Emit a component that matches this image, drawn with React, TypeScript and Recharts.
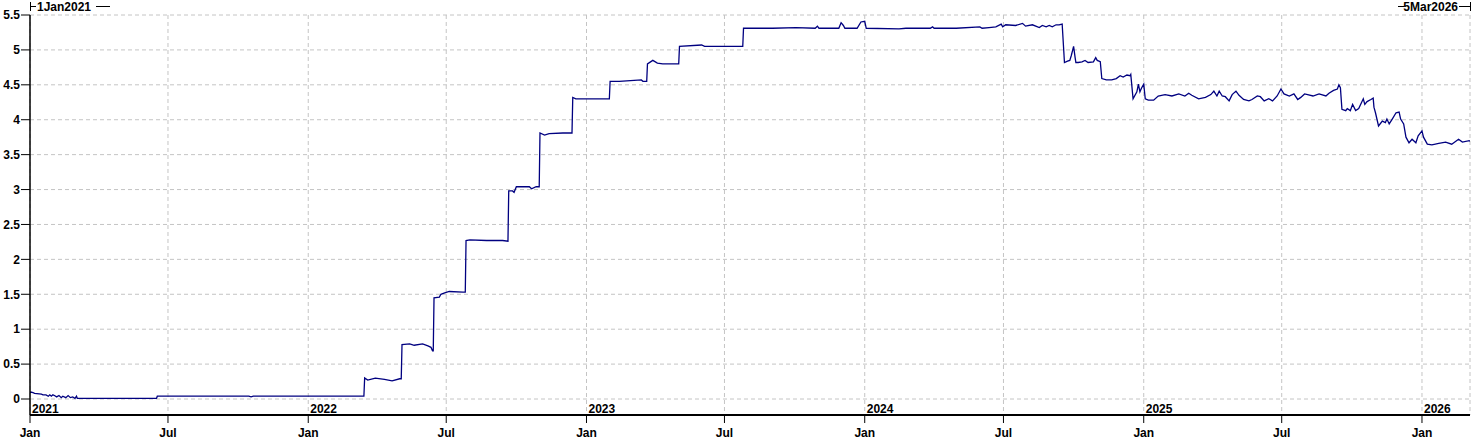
import React from "react";
import { LineChart, Line, XAxis, YAxis, CartesianGrid } from "recharts";

// ---- data ----
const dates2021 = [
  "2021-01-01", "2021-01-02", "2021-01-05", "2021-01-07", "2021-01-16", "2021-01-18",
  "2021-01-22", "2021-01-25", "2021-01-27", "2021-01-29", "2021-01-31", "2021-02-02",
  "2021-02-05", "2021-02-08", "2021-02-11", "2021-02-13", "2021-02-17", "2021-02-20",
  "2021-02-23", "2021-02-26", "2021-03-01", "2021-03-03", "2021-03-04", "2021-06-16",
  "2021-06-17", "2021-10-15", "2021-10-18", "2021-10-21",
];
const values2021 = [
  0.09, 0.10, 0.09, 0.08, 0.07, 0.06,
  0.06, 0.04, 0.06, 0.04, 0.06, 0.05,
  0.03, 0.05, 0.02, 0.04, 0.02, 0.05,
  0.02, 0.03, 0.01, 0.04, 0.01, 0.01,
  0.04, 0.04, 0.03, 0.04,
];

const dates2022 = [
  "2022-03-15", "2022-03-16", "2022-03-20", "2022-03-30", "2022-04-11", "2022-04-21",
  "2022-05-01", "2022-05-03", "2022-05-04", "2022-05-14", "2022-05-20", "2022-05-31",
  "2022-06-07", "2022-06-11", "2022-06-13", "2022-06-14", "2022-06-15", "2022-06-22",
  "2022-06-24", "2022-06-29", "2022-07-05", "2022-07-23", "2022-07-26", "2022-07-27",
  "2022-08-01", "2022-08-23", "2022-09-13", "2022-09-20", "2022-09-21", "2022-09-26",
  "2022-09-28", "2022-10-01", "2022-10-18", "2022-10-21", "2022-10-27", "2022-10-31",
  "2022-11-01", "2022-11-07", "2022-11-13", "2022-12-01", "2022-12-13", "2022-12-14",
  "2022-12-18",
];
const values2022 = [
  0.04, 0.30, 0.27, 0.30, 0.28, 0.26,
  0.29, 0.29, 0.78, 0.79, 0.77, 0.79,
  0.76, 0.74, 0.69, 0.69, 1.45, 1.46,
  1.50, 1.52, 1.54, 1.53, 1.53, 2.27,
  2.28, 2.27, 2.27, 2.26, 2.98, 2.98,
  2.96, 3.04, 3.04, 3.01, 3.04, 3.04,
  3.81, 3.78, 3.80, 3.81, 3.81, 4.32,
  4.30,
];

const dates2023 = [
  "2023-01-03", "2023-01-18", "2023-01-31", "2023-02-01", "2023-02-13", "2023-03-14",
  "2023-03-16", "2023-03-21", "2023-03-22", "2023-03-29", "2023-04-04", "2023-04-11",
  "2023-04-26", "2023-05-02", "2023-05-03", "2023-06-01", "2023-06-05", "2023-07-25",
  "2023-07-26", "2023-09-02", "2023-10-03", "2023-10-28", "2023-10-31", "2023-11-02",
  "2023-11-28", "2023-12-01", "2023-12-04", "2023-12-06", "2023-12-22", "2023-12-27",
];
const values2023 = [
  4.30, 4.30, 4.30, 4.55, 4.55, 4.57,
  4.55, 4.55, 4.80, 4.85, 4.81, 4.80,
  4.80, 4.80, 5.05, 5.07, 5.05, 5.05,
  5.31, 5.31, 5.32, 5.31, 5.34, 5.31,
  5.31, 5.39, 5.35, 5.31, 5.31, 5.40,
];

const dates2024 = [
  "2024-01-01", "2024-01-03", "2024-02-15", "2024-02-24", "2024-03-27", "2024-03-30",
  "2024-04-01", "2024-04-30", "2024-05-31", "2024-06-03", "2024-06-12", "2024-06-21",
  "2024-06-28", "2024-06-30", "2024-07-04", "2024-07-17", "2024-07-26", "2024-07-30",
  "2024-08-08", "2024-08-17", "2024-08-21", "2024-08-26", "2024-08-30", "2024-09-03",
  "2024-09-08", "2024-09-12", "2024-09-16", "2024-09-19", "2024-09-23", "2024-09-26",
  "2024-09-28", "2024-10-01", "2024-10-03", "2024-10-04", "2024-10-07", "2024-10-12",
  "2024-10-16", "2024-10-20", "2024-10-27", "2024-10-30", "2024-11-01", "2024-11-05",
  "2024-11-07", "2024-11-13", "2024-11-20", "2024-11-26", "2024-12-01", "2024-12-05",
  "2024-12-10", "2024-12-14", "2024-12-15", "2024-12-18", "2024-12-23", "2024-12-25",
  "2024-12-27", "2024-12-29",
];
const values2024 = [
  5.41, 5.31, 5.30, 5.31, 5.31, 5.33,
  5.31, 5.31, 5.33, 5.31, 5.32, 5.33,
  5.37, 5.33, 5.36, 5.35, 5.38, 5.34,
  5.36, 5.32, 5.35, 5.33, 5.35, 5.33,
  5.36, 5.36, 5.37, 4.82, 4.84, 4.85,
  4.92, 5.05, 4.89, 4.82, 4.82, 4.83,
  4.85, 4.82, 4.83, 4.89, 4.85, 4.83,
  4.59, 4.57, 4.57, 4.59, 4.63, 4.61,
  4.64, 4.63, 4.65, 4.30, 4.40, 4.51,
  4.40, 4.45,
];

const dates2025 = [
  "2025-01-01", "2025-01-03", "2025-01-07", "2025-01-14", "2025-01-20", "2025-01-29",
  "2025-02-07", "2025-02-16", "2025-02-24", "2025-03-01", "2025-03-05", "2025-03-14",
  "2025-03-23", "2025-03-30", "2025-04-03", "2025-04-07", "2025-04-10", "2025-04-14",
  "2025-04-18", "2025-04-23", "2025-04-27", "2025-05-02", "2025-05-06", "2025-05-12",
  "2025-05-19", "2025-05-23", "2025-05-30", "2025-06-03", "2025-06-08", "2025-06-14",
  "2025-06-19", "2025-06-25", "2025-06-30", "2025-07-04", "2025-07-11", "2025-07-17",
  "2025-07-22", "2025-07-26", "2025-07-31", "2025-08-04", "2025-08-11", "2025-08-19",
  "2025-08-28", "2025-09-01", "2025-09-07", "2025-09-12", "2025-09-14", "2025-09-16",
  "2025-09-18", "2025-09-23", "2025-09-25", "2025-09-29", "2025-10-02", "2025-10-06",
  "2025-10-10", "2025-10-16", "2025-10-18", "2025-10-21", "2025-10-26", "2025-10-29",
  "2025-10-30", "2025-11-01", "2025-11-05", "2025-11-10", "2025-11-14", "2025-11-16",
  "2025-11-19", "2025-11-23", "2025-11-28", "2025-12-02", "2025-12-04", "2025-12-08",
  "2025-12-11", "2025-12-15", "2025-12-19", "2025-12-24", "2025-12-27",
];
const values2025 = [
  4.51, 4.30, 4.28, 4.28, 4.34, 4.36,
  4.34, 4.37, 4.34, 4.38, 4.35, 4.30,
  4.32, 4.36, 4.41, 4.34, 4.41, 4.34,
  4.33, 4.27, 4.36, 4.41, 4.35, 4.29,
  4.27, 4.29, 4.34, 4.33, 4.27, 4.30,
  4.27, 4.34, 4.44, 4.37, 4.34, 4.37,
  4.29, 4.32, 4.37, 4.36, 4.34, 4.37,
  4.34, 4.38, 4.42, 4.44, 4.50, 4.46,
  4.15, 4.13, 4.16, 4.13, 4.22, 4.13,
  4.16, 4.30, 4.22, 4.26, 4.29, 4.31,
  4.18, 4.10, 3.91, 3.98, 3.96, 4.01,
  3.94, 4.01, 4.10, 4.11, 4.01, 3.94,
  3.75, 3.67, 3.72, 3.67, 3.77,
];

const dates2026 = [
  "2026-01-01", "2026-01-03", "2026-01-08", "2026-01-14", "2026-01-23", "2026-02-01",
  "2026-02-09", "2026-02-18", "2026-02-23", "2026-03-04", "2026-03-05",
];
const values2026 = [
  3.84, 3.75, 3.65, 3.64, 3.66, 3.68,
  3.65, 3.72, 3.68, 3.70, 3.69,
];

const startDate = "2021-01-01";
const endDate = "2026-03-05";
const startLabel = "1Jan2021";
const endLabel = "5Mar2026";

const xTickDates = [
  "2021-01-01", "2021-07-01", "2022-01-01", "2022-07-01", "2023-01-01", "2023-07-01",
  "2024-01-01", "2024-07-01", "2025-01-01", "2025-07-01", "2026-01-01",
];
const xTickLabels = ["Jan", "Jul", "Jan", "Jul", "Jan", "Jul", "Jan", "Jul", "Jan", "Jul", "Jan"];
const yearLabels = ["2021", "", "2022", "", "2023", "", "2024", "", "2025", "", "2026"];
const yTicks = [0, 0.5, 1, 1.5, 2, 2.5, 3, 3.5, 4, 4.5, 5, 5.5];

// ---- build ----
const toTs = (d: string) => {
  const [y, m, day] = d.split("-").map(Number);
  return Date.UTC(y, m - 1, day);
};

const allDates = [...dates2021, ...dates2022, ...dates2023, ...dates2024, ...dates2025, ...dates2026];
const allValues = [...values2021, ...values2022, ...values2023, ...values2024, ...values2025, ...values2026];
const rows = allDates.map((d, i) => ({ t: toTs(d), v: allValues[i] }));

const xTicks = xTickDates.map(toTs);
const FONT = "'Liberation Sans', Arial, sans-serif";

const XTick = (props: any) => {
  const { x, y, payload } = props;
  const idx = xTicks.indexOf(payload.value);
  const label = idx >= 0 ? xTickLabels[idx] : "";
  const year = idx >= 0 ? yearLabels[idx] : "";
  return (
    <g>
      <text x={x} y={y} dy={13.5} textAnchor="middle" fontFamily={FONT} fontWeight="bold" fontSize={12} fill="#000">
        {label}
      </text>
      {year ? (
        <text x={x + 2} y={y} dy={-10.5} textAnchor="start" fontFamily={FONT} fontWeight="bold" fontSize={12} fill="#000">
          {year}
        </text>
      ) : null}
    </g>
  );
};

const YTick = (props: any) => {
  const { x, y, payload } = props;
  return (
    <text x={x} y={y} dy={4.3} textAnchor="end" fontFamily={FONT} fontWeight="bold" fontSize={12} fill="#000">
      {String(payload.value)}
    </text>
  );
};

export default function App() {
  const W = 1478;
  const H = 440;
  return (
    <div style={{ position: "absolute", left: 0, top: 0, width: W, height: H, background: "#fff" }}>
      <LineChart width={W} height={H} data={rows} margin={{ top: 15, right: 8, bottom: 0, left: 0 }}>
        <CartesianGrid stroke="#c4c4c4" strokeDasharray="4 3" />
        <XAxis
          dataKey="t"
          type="number"
          domain={[toTs(startDate), toTs(endDate)]}
          ticks={xTicks}
          interval={0}
          height={25}
          tickSize={8}
          tickMargin={0}
          tick={<XTick />}
          axisLine={{ stroke: "#000", strokeWidth: 2 }}
          tickLine={{ stroke: "#000", strokeWidth: 1 }}
          allowDataOverflow
        />
        <XAxis
          xAxisId="top"
          orientation="top"
          dataKey="t"
          type="number"
          domain={[toTs(startDate), toTs(endDate)]}
          height={0}
          tick={false}
          tickLine={false}
          axisLine={{ stroke: "#000", strokeWidth: 2 }}
        />
        <YAxis
          type="number"
          domain={[-0.229, 5.5]}
          ticks={yTicks}
          interval={0}
          width={30}
          tickSize={9}
          tickMargin={1}
          tick={<YTick />}
          axisLine={{ stroke: "#000", strokeWidth: 1.5 }}
          tickLine={{ stroke: "#000", strokeWidth: 1 }}
          allowDataOverflow
        />
        <YAxis
          yAxisId="right"
          orientation="right"
          type="number"
          domain={[-0.229, 5.5]}
          width={0}
          tick={false}
          tickLine={false}
          axisLine={{ stroke: "#000", strokeWidth: 2 }}
        />
        <Line
          type="linear"
          dataKey="v"
          stroke="#000080"
          strokeWidth={1.3}
          dot={false}
          isAnimationActive={false}
        />
      </LineChart>
      <svg
        width={W}
        height={H}
        style={{ position: "absolute", left: 0, top: 0, pointerEvents: "none" }}
      >
        <g stroke="#000" strokeWidth={1}>
          <line x1={30.5} y1={2} x2={30.5} y2={11} />
          <line x1={30.5} y1={6.5} x2={36} y2={6.5} />
          <line x1={96} y1={6.5} x2={110} y2={6.5} />
          <line x1={1398} y1={6.5} x2={1404} y2={6.5} />
          <line x1={1459} y1={6.5} x2={1470.5} y2={6.5} />
          <line x1={1470.5} y1={2} x2={1470.5} y2={11} />
        </g>
        <text x={37} y={11} fontFamily={FONT} fontWeight="bold" fontSize={12} fill="#000">
          {startLabel}
        </text>
        <text x={1458} y={11} textAnchor="end" fontFamily={FONT} fontWeight="bold" fontSize={12} fill="#000">
          {endLabel}
        </text>
      </svg>
    </div>
  );
}
